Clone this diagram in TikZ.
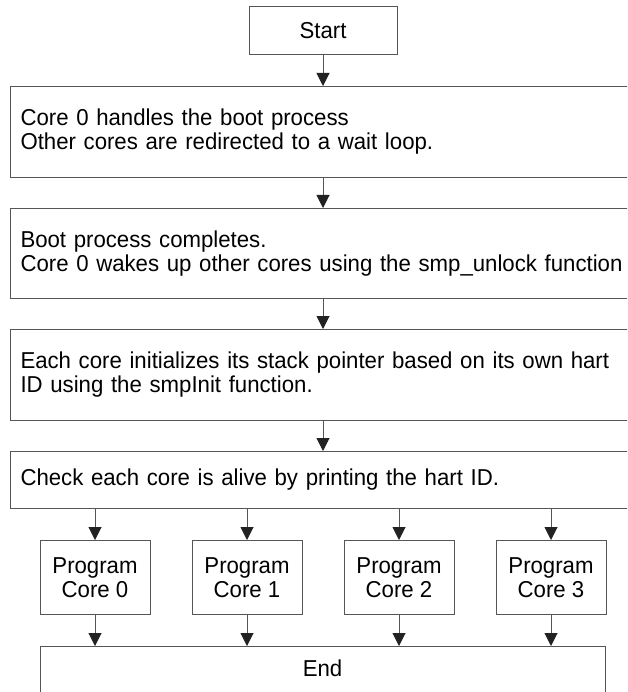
\documentclass[tikz,border=0pt]{standalone}
\usepackage{fontspec}
\setmainfont{Liberation Sans}[FakeStretch=0.965]
\usetikzlibrary{arrows.meta}
\definecolor{linecol}{HTML}{555555}
\definecolor{tipcol}{HTML}{222222}
\begin{document}
\begin{tikzpicture}[x=1pt,y=-1pt,
  box/.style={draw=linecol, line width=1pt, fill=white, inner sep=0pt},
  wide/.style={box, anchor=north west, text width=620pt, align=left, inner xsep=10pt},
  prog/.style={box, anchor=north, minimum width=110pt, minimum height=74pt, align=center},
  arr/.style={draw=linecol, line width=1pt, -{Triangle[width=13pt,length=13pt,fill=tipcol,color=tipcol]}},
  font=\fontsize{23}{24}\selectfont]
\clip (0,0) rectangle (627,692);
\fill[white] (0,0) rectangle (627,692);
\node[box, minimum width=148pt, minimum height=48pt] (start) at (323,31) {Start};
\node[wide, minimum height=91pt] (b1) at (10,86) {Core 0 handles the boot process\\Other cores are redirected to a wait loop.};
\node[wide, minimum height=90pt] (b2) at (10,208) {Boot process completes.\\Core 0 wakes up other cores using the smp\_unlock function};
\node[wide, minimum height=91pt] (b3) at (10,329) {Each core initializes its stack pointer based on its own hart\\ID using the smpInit function.};
\node[wide, minimum height=57pt] (b4) at (10,451) {Check each core is alive by printing the hart ID.};
\node[prog] (p0) at (95,540) {Program\\Core 0};
\node[prog] (p1) at (247,540) {Program\\Core 1};
\node[prog] (p2) at (399,540) {Program\\Core 2};
\node[prog] (p3) at (551,540) {Program\\Core 3};
\node[box, anchor=north, minimum width=565pt, text height=16pt, text depth=40pt, inner ysep=14pt] (end) at (322.5,646) {End};
\draw[arr] (start.south) -- (b1.north -| start.south);
\draw[arr] (b1.south -| start.south) -- (b2.north -| start.south);
\draw[arr] (b2.south -| start.south) -- (b3.north -| start.south);
\draw[arr] (b3.south -| start.south) -- (b4.north -| start.south);
\foreach \p in {p0,p1,p2,p3}{
  \draw[arr] (b4.south -| \p.north) -- (\p.north);
  \draw[arr] (\p.south) -- (end.north -| \p.south);
}
\end{tikzpicture}
\end{document}
